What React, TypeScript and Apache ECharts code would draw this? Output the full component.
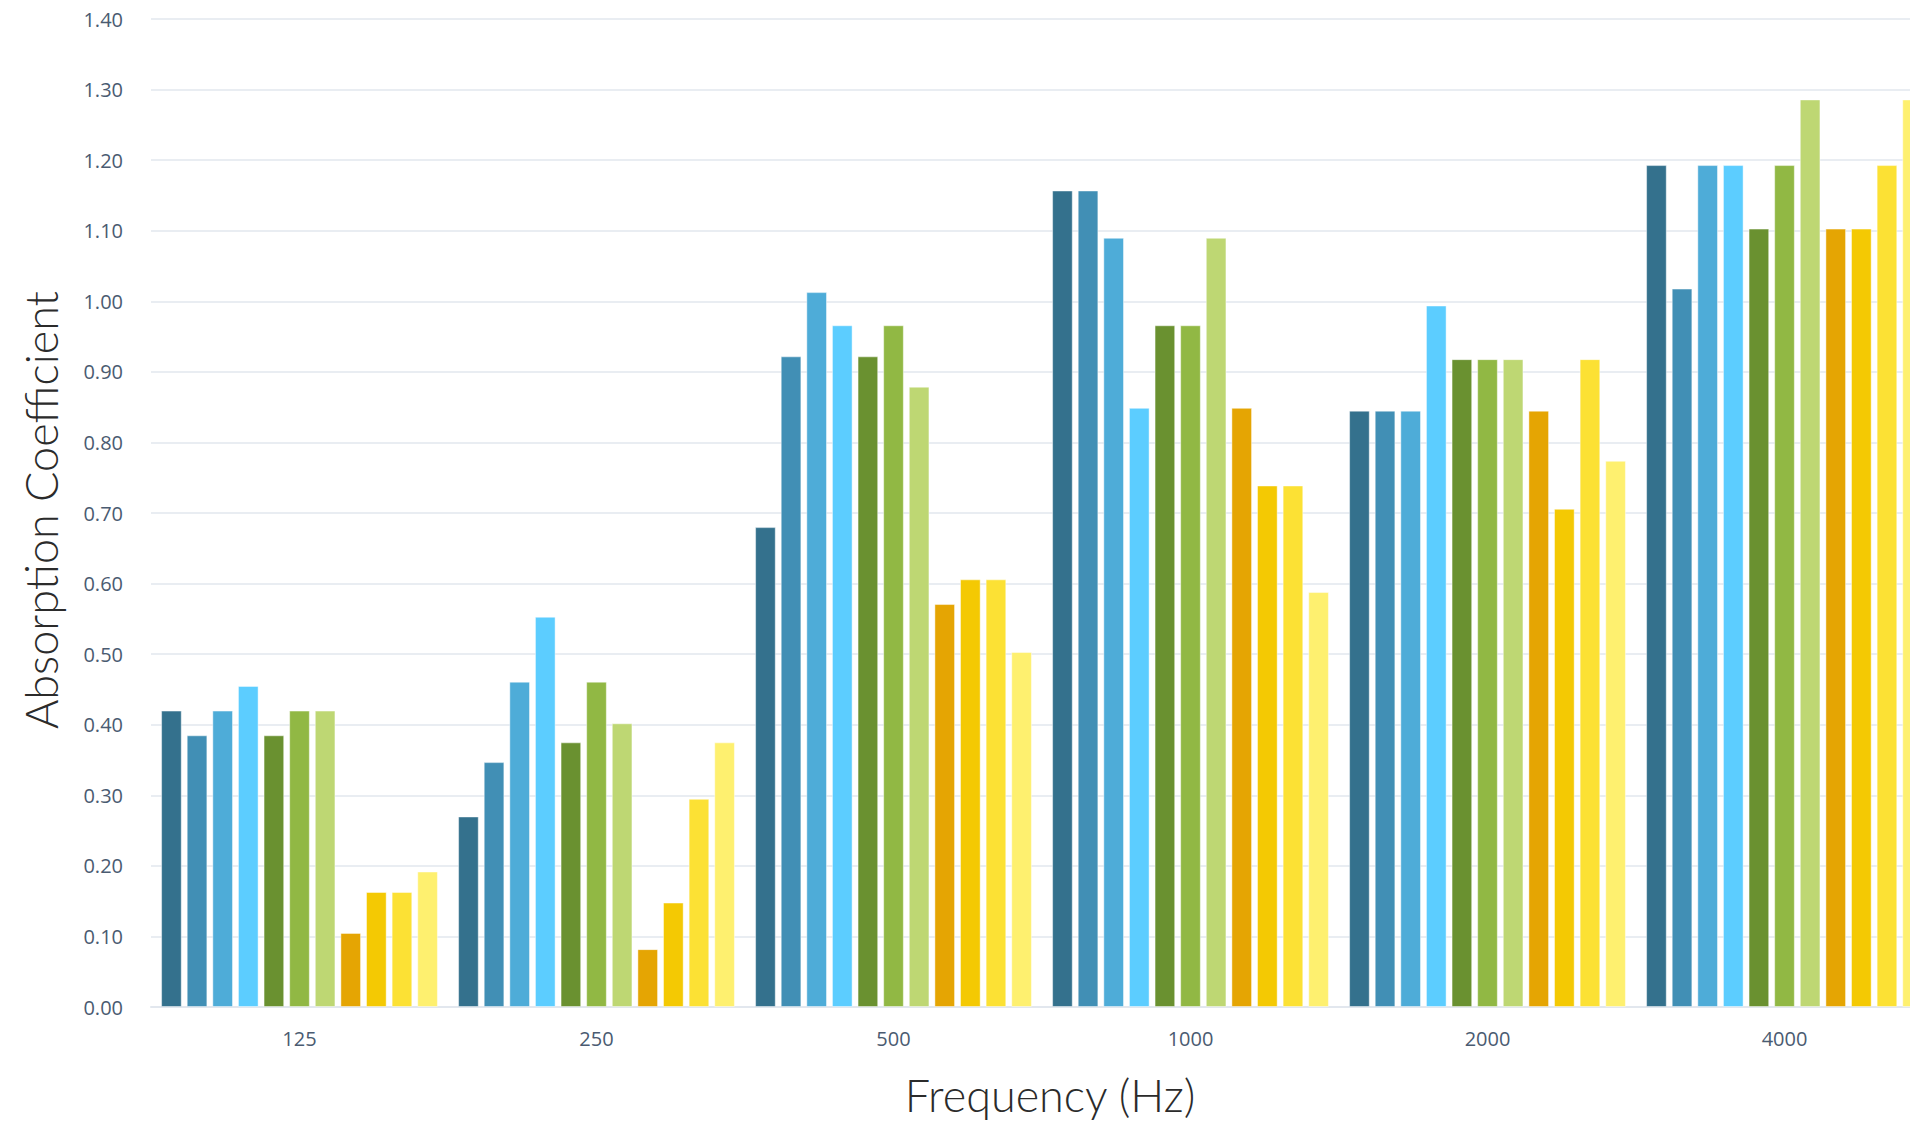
import React, { useEffect, useRef } from "react";
import * as echarts from "echarts";

// Octave-band centre frequencies
const frequencies = ["125", "250", "500", "1000", "2000", "4000"];

// Absorption coefficients per material, one value per frequency band
const mat1 = [0.42, 0.27, 0.68, 1.157, 0.845, 1.193];
const mat2 = [0.385, 0.347, 0.922, 1.157, 0.845, 1.018];
const mat3 = [0.42, 0.461, 1.013, 1.09, 0.845, 1.193];
const mat4 = [0.455, 0.553, 0.966, 0.849, 0.994, 1.193];
const mat5 = [0.385, 0.375, 0.922, 0.966, 0.918, 1.103];
const mat6 = [0.42, 0.461, 0.966, 0.966, 0.918, 1.193];
const mat7 = [0.42, 0.402, 0.879, 1.09, 0.918, 1.286];
const mat8 = [0.105, 0.082, 0.571, 0.849, 0.845, 1.103];
const mat9 = [0.163, 0.148, 0.606, 0.739, 0.706, 1.103];
const mat10 = [0.163, 0.295, 0.606, 0.739, 0.918, 1.193];
const mat11 = [0.192, 0.375, 0.503, 0.588, 0.774, 1.286];

const materials = [mat1, mat2, mat3, mat4, mat5, mat6, mat7, mat8, mat9, mat10, mat11];
const materialNames = [
  "Material 1", "Material 2", "Material 3", "Material 4", "Material 5", "Material 6",
  "Material 7", "Material 8", "Material 9", "Material 10", "Material 11",
];
const palette = [
  "#34718d", "#418fb5", "#4eacd8", "#5ccdff",
  "#6a9130", "#91b844", "#bed773",
  "#e5a503", "#f4c903", "#fce134", "#fef06f",
];

const Y_MIN = 0;
const Y_MAX = 1.4;
const Y_STEP = 0.1;

export default function App() {
  const ref = useRef<HTMLDivElement>(null);

  useEffect(() => {
    if (!ref.current) return;
    const chart = echarts.init(ref.current, undefined, { renderer: "svg" });
    const tickColor = "#4a5b71";
    const gridColor = "#e2e7ee";
    const titleStyle = {
      fontFamily: "Lato",
      fontWeight: 300,
      fontSize: 45,
      color: "#2b2b2b",
    };
    chart.setOption({
      animation: false,
      backgroundColor: "#ffffff",
      grid: { left: 151, right: 27, top: 19, bottom: 120, containLabel: false },
      xAxis: {
        type: "category",
        data: frequencies,
        name: "Frequency (Hz)",
        nameLocation: "middle",
        nameGap: 65,
        nameTextStyle: { ...titleStyle, padding: [0, 0, 0, 16] },
        axisLine: { show: true, lineStyle: { color: gridColor, width: 2 } },
        axisTick: { show: false },
        axisLabel: {
          margin: 21,
          fontFamily: "Open Sans",
          fontSize: 20,
          color: tickColor,
        },
      },
      yAxis: {
        type: "value",
        min: Y_MIN,
        max: Y_MAX,
        interval: Y_STEP,
        name: "Absorption Coefficient",
        nameLocation: "middle",
        nameGap: 88,
        nameRotate: 90,
        nameTextStyle: { ...titleStyle, padding: [0, 0, 0, 6] },
        axisLine: { show: false },
        axisTick: { show: false },
        splitLine: { show: true, lineStyle: { color: gridColor, width: 1.5 } },
        axisLabel: {
          margin: 28,
          fontFamily: "Open Sans",
          fontSize: 20,
          color: tickColor,
          formatter: (v: number) => v.toFixed(2),
        },
      },
      series: materials.map((vals, i) => ({
        type: "bar",
        name: materialNames[i],
        data: vals,
        barGap: "24%",
        barCategoryGap: "6.8%",
        itemStyle: {
          color: palette[i],
          borderColor: "rgba(255,255,255,0.45)",
          borderWidth: 1,
        },
      })),
    });
    return () => chart.dispose();
  }, []);

  return (
    <div
      style={{
        position: "fixed",
        left: 0,
        top: 0,
        width: 1910,
        height: 1127,
        overflow: "hidden",
        background: "#ffffff",
      }}
    >
      <div ref={ref} style={{ width: 1960, height: 1127 }} />
    </div>
  );
}
